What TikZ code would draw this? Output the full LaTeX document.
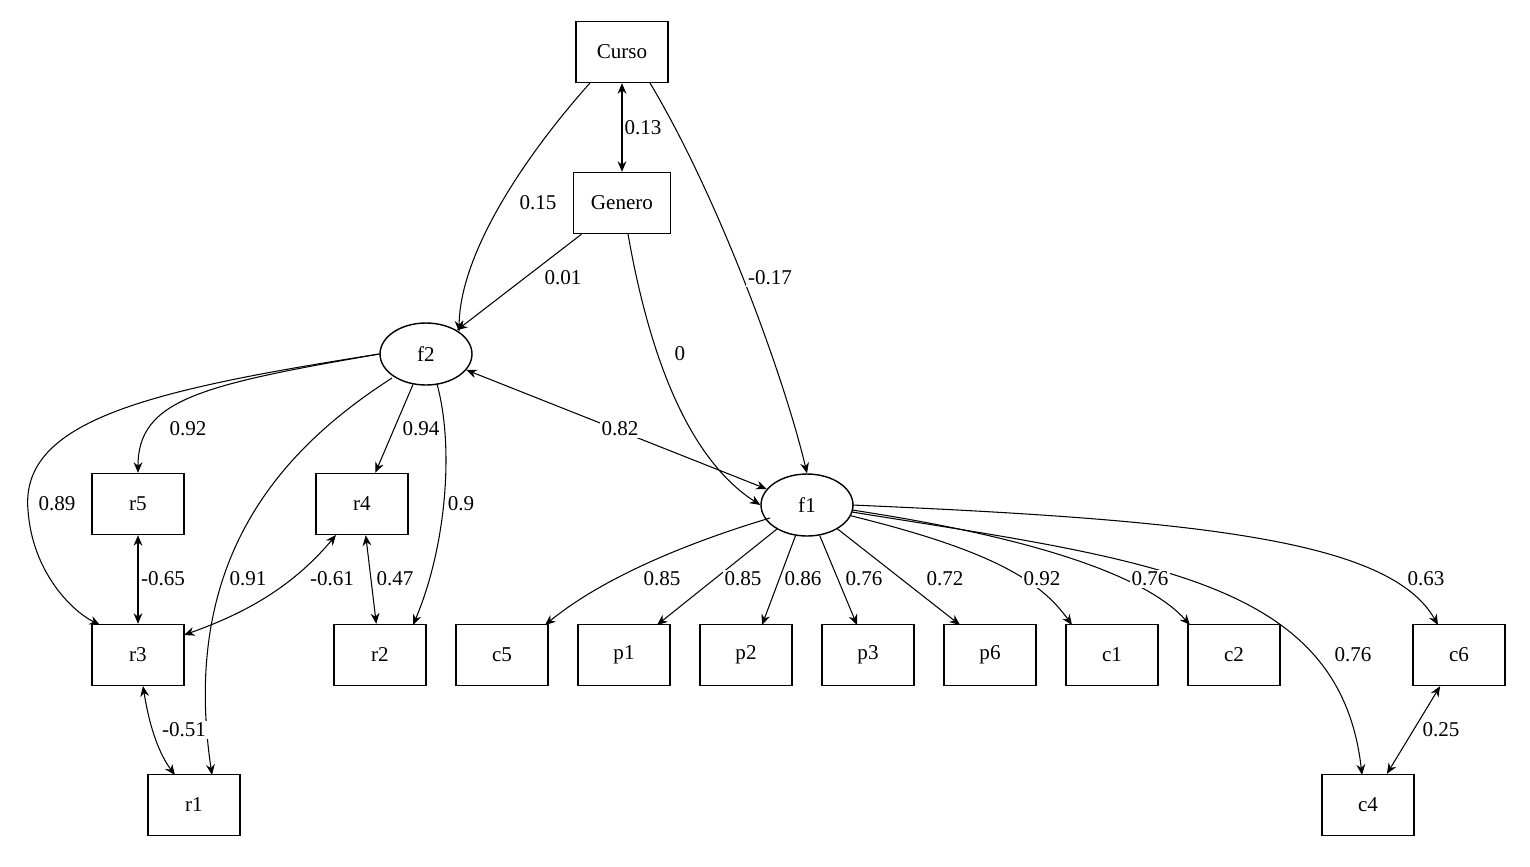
\documentclass[tikz,border=0pt]{standalone}
\usepackage{fontspec}
\setmainfont{Liberation Serif}
\usetikzlibrary{shapes.geometric,arrows.meta}
\begin{document}
\begin{tikzpicture}[x=0.02cm,y=-0.02cm,
  box/.style={draw,thick,minimum width=1.84cm,minimum height=1.22cm,inner sep=0pt,font=\fontsize{12}{14}\selectfont},
  lat/.style={draw,thick,ellipse,minimum width=1.84cm,minimum height=1.24cm,inner sep=0pt,font=\fontsize{12}{14}\selectfont},
  lbl/.style={font=\fontsize{12}{14}\selectfont,inner sep=1pt,fill=white},
  e/.style={-{Stealth[length=6pt,width=5pt]},semithick},
  c/.style={{Stealth[length=6pt,width=5pt]}-{Stealth[length=6pt,width=5pt]},semithick}]
\useasboundingbox (0,0) rectangle (1530,866);
\node[box] (Curso) at (622,52) {Curso};
\node[box,minimum width=1.94cm] (Genero) at (622,203) {Genero};
\node[lat] (f2) at (426,354) {f2};
\node[lat] (f1) at (807,505) {f1};
\foreach \n/\x/\y in {r5/138/504,r4/362/504,r3/138/655,r2/380/655,r1/194/805,c5/502/655,p1/624/655,p2/746/655,p3/868/655,p6/990/655,c1/1112/655,c2/1234/655,c6/1459/655,c4/1368/805}
  \node[box] (\n) at (\x,\y) {\n};
% edges
\draw[c] (Curso) -- (Genero);
\draw[e] (590,83) .. controls (530,150) and (460,250) .. (f2.north east);
\draw[e] (650,83) .. controls (720,200) and (785,380) .. (f1.north);
\draw[e] (Genero) -- (f2);
\draw[e] (628,234) .. controls (650,360) and (690,460) .. (f1.west);
\draw[c] (f2) -- (f1);
\draw[e] (f2.west) .. controls (200,385) and (138,400) .. (r5.north);
\draw[e] (f2.west) .. controls (150,390) and (20,420) .. (28,510) .. controls (32,570) and (70,610) .. (100,625);
\draw[e] (f2) -- (r4);
\draw[e] (437,384) .. controls (455,450) and (445,550) .. (413,625);
\draw[e] (392,378) .. controls (280,450) and (180,560) .. (212,775);
\draw[c] (r5) -- (r3);
\draw[c] (336,535) .. controls (290,590) and (240,615) .. (184,635);
\draw[c] (r4) -- (r2);
\draw[c] (143,686) .. controls (150,730) and (160,755) .. (175,775);
\draw[e] (770,518) .. controls (680,545) and (600,580) .. (545,625);
\draw[e] (f1) -- (657,625);
\draw[e] (f1) -- (762,625);
\draw[e] (f1) -- (857,625);
\draw[e] (f1) -- (960,625);
\draw[e] (f1) .. controls (990,550) and (1040,580) .. (1072,625);
\draw[e] (852,510) .. controls (1050,540) and (1150,580) .. (1190,625);
\draw[e] (852,512) .. controls (1150,560) and (1340,580) .. (1362,775);
\draw[e] (852,505) .. controls (1200,520) and (1390,540) .. (1438,625);
\draw[c] (c6) -- (c4);
% labels
\foreach \n/\x/\y/\t in {l1/643/128/0.13,l2/538/203/0.15,l3/770/278/-0.17,l4/563/278/0.01,l5/680/354/0,l6/620/429/0.82,l7/188/429/0.92,l8/57/504/0.89,l9/421/429/0.94,l10/461/504/0.9,l11/248/579/0.91,l12/163/579/-0.65,l13/332/579/-0.61,l14/395/579/0.47,l15/184/730/-0.51,l16/662/579/0.85,l17/743/579/0.85,l18/803/579/0.86,l19/864/579/0.76,l20/945/579/0.72,l21/1042/579/0.92,l22/1150/579/0.76,l23/1353/655/0.76,l24/1426/579/0.63,l25/1441/730/0.25}
  \node[lbl] (\n) at (\x,\y) {\t};
\end{tikzpicture}
\end{document}
